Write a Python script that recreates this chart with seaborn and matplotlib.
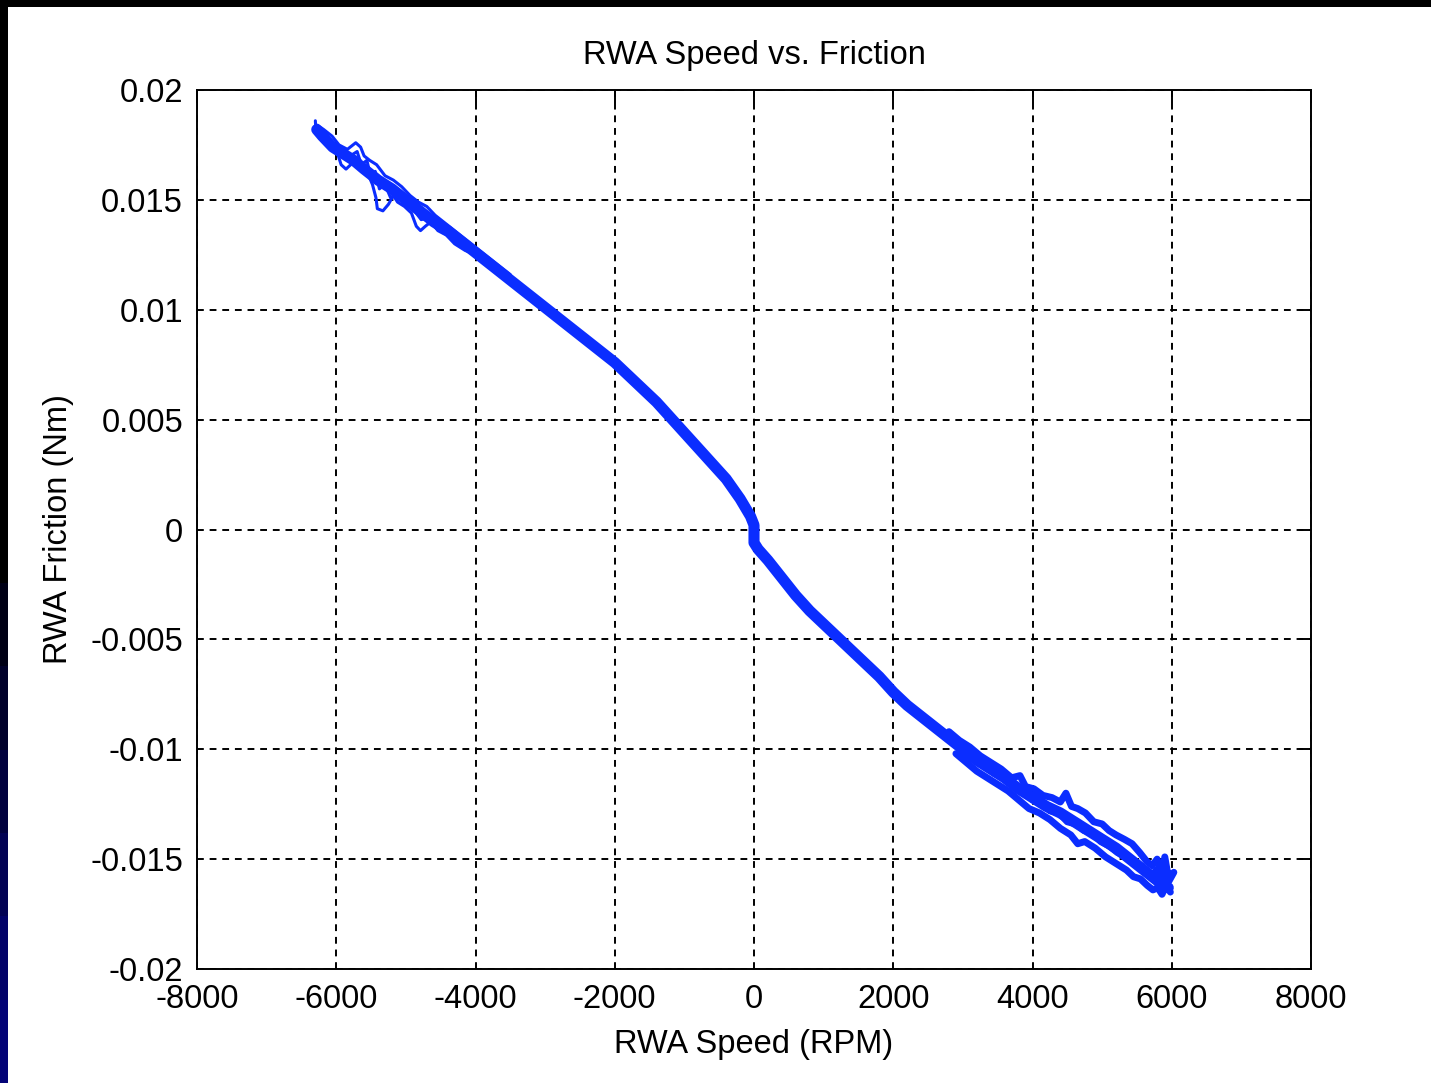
import numpy as np
import pandas as pd
import seaborn as sns
import matplotlib.pyplot as plt

# data (speed in RPM, friction in Nm)
speed_core = [-6280, -6200, -6050, -5900, -5750, -5600, -5400, -5200, -5000, -4800,
              -4600, -4400, -4200, -4000, -3800, -3600, -3400, -3200, -3000, -2800,
              -2600, -2400, -2200, -2000, -1800, -1600, -1400, -1200, -1000, -800,
              -600, -400, -200, -50, 0, 0, 60, 200, 400, 600, 800, 1000, 1200, 1400,
              1600, 1800, 2000, 2200, 2400, 2600, 2800, 3000, 3200, 3400, 3600, 3800,
              4000, 4200, 4400, 4600, 4800, 5000, 5200, 5400, 5600, 5800, 5950]
friction_core = [0.0182, 0.0179, 0.0174, 0.0171, 0.0168, 0.0164, 0.0159, 0.0155, 0.0150, 0.0145,
                 0.0140, 0.0136, 0.0131, 0.0126, 0.0121, 0.0116, 0.0111, 0.0106, 0.0101, 0.0096,
                 0.0091, 0.0086, 0.0081, 0.0076, 0.0070, 0.0064, 0.0058, 0.0051, 0.0044, 0.0037,
                 0.0030, 0.0023, 0.0014, 0.0006, 0.0002, -0.0006, -0.0009, -0.0014, -0.0022, -0.0030,
                 -0.0037, -0.0043, -0.0049, -0.0055, -0.0061, -0.0067, -0.0074, -0.0080, -0.0085, -0.0090,
                 -0.0095, -0.0100, -0.0105, -0.0109, -0.0113, -0.0118, -0.0122, -0.0126, -0.0129, -0.0133,
                 -0.0137, -0.0141, -0.0145, -0.0150, -0.0155, -0.0160, -0.0163]

# noisy sweeps at the high negative speed end
speed_l1 = [-6300, -6290, -6200, -6080, -5990, -5930, -5860, -5760, -5680, -5560, -5480, -5430,
            -5410, -5330, -5250, -5180, -5120, -5020, -4920, -4850, -4790, -4720, -4640, -4540,
            -4420, -4300, -4150, -4000, -3850, -3700]
friction_l1 = [0.0186, 0.0180, 0.0177, 0.0176, 0.0172, 0.0166, 0.0164, 0.0167, 0.0169, 0.0163,
               0.0157, 0.0151, 0.0146, 0.0145, 0.0148, 0.0152, 0.0149, 0.0147, 0.0144, 0.0138,
               0.0136, 0.0138, 0.0140, 0.0136, 0.0134, 0.0130, 0.0127, 0.0125, 0.0121, 0.0117]
speed_l2 = [-6270, -6180, -6060, -5960, -5840, -5720, -5650, -5600, -5520, -5420, -5300, -5180,
            -5060, -4940, -4820, -4700, -4580, -4460, -4340, -4220, -4100, -3980, -3860, -3740,
            -3620, -3500]
friction_l2 = [0.0184, 0.0182, 0.0179, 0.0175, 0.0173, 0.0176, 0.0174, 0.0170, 0.0168, 0.0166,
               0.0161, 0.0159, 0.0156, 0.0152, 0.0149, 0.0147, 0.0143, 0.0140, 0.0137, 0.0134,
               0.0131, 0.0128, 0.0125, 0.0122, 0.0119, 0.0116]
speed_l3 = [-6240, -6100, -5950, -5800, -5700, -5640, -5560, -5500, -5440, -5380, -5300, -5220,
            -5120, -5000, -4900, -4780, -4660, -4560, -4440, -4320, -4200, -4060, -3920, -3780,
            -3640, -3500, -3360]
friction_l3 = [0.0181, 0.0175, 0.0170, 0.0170, 0.0172, 0.0166, 0.0168, 0.0160, 0.0163, 0.0155,
               0.0157, 0.0151, 0.0153, 0.0148, 0.0146, 0.0141, 0.0142, 0.0137, 0.0136, 0.0132,
               0.0130, 0.0126, 0.0124, 0.0120, 0.0117, 0.0114, 0.0111]

# noisy sweeps at the high positive speed end
speed_r1 = [2800, 2950, 3100, 3250, 3400, 3550, 3700, 3820, 3900, 4020, 4150, 4280, 4400, 4480,
            4560, 4650, 4760, 4880, 5000, 5100, 5200, 5320, 5430, 5540, 5640, 5720, 5790, 5830,
            5880, 5940, 6000]
friction_r1 = [-0.0092, -0.0096, -0.0099, -0.0103, -0.0106, -0.0109, -0.0113, -0.0112, -0.0117,
               -0.0118, -0.0121, -0.0122, -0.0124, -0.0120, -0.0126, -0.0127, -0.0129, -0.0133,
               -0.0134, -0.0137, -0.0139, -0.0141, -0.0143, -0.0147, -0.0151, -0.0153, -0.0150,
               -0.0154, -0.0152, -0.0156, -0.0157]
speed_r2 = [2900, 3050, 3200, 3350, 3500, 3650, 3800, 3950, 4100, 4250, 4400, 4550, 4650, 4750,
            4900, 5050, 5200, 5350, 5450, 5550, 5650, 5730, 5800, 5860, 5920, 5980]
friction_r2 = [-0.0102, -0.0106, -0.0110, -0.0113, -0.0116, -0.0119, -0.0123, -0.0127, -0.0129,
               -0.0132, -0.0136, -0.0139, -0.0143, -0.0142, -0.0145, -0.0149, -0.0152, -0.0155,
               -0.0158, -0.0159, -0.0162, -0.0164, -0.0163, -0.0166, -0.0162, -0.0165]
speed_r3 = [3000, 3150, 3300, 3450, 3600, 3750, 3880, 4000, 4120, 4250, 4380, 4500, 4620, 4740,
            4860, 4980, 5100, 5220, 5340, 5460, 5580, 5700, 5780, 5850, 5900, 5960, 6030]
friction_r3 = [-0.0099, -0.0104, -0.0106, -0.0111, -0.0113, -0.0117, -0.0119, -0.0123, -0.0124,
               -0.0128, -0.0129, -0.0133, -0.0134, -0.0137, -0.0138, -0.0142, -0.0144, -0.0147,
               -0.0149, -0.0152, -0.0154, -0.0158, -0.0155, -0.0161, -0.0149, -0.0160, -0.0156]

x_ticks = [-8000, -6000, -4000, -2000, 0, 2000, 4000, 6000, 8000]
y_ticks = [-0.02, -0.015, -0.01, -0.005, 0, 0.005, 0.01, 0.015, 0.02]
x_ticklabels = ['-8000', '-6000', '-4000', '-2000', '0', '2000', '4000', '6000', '8000']
y_ticklabels = ['-0.02', '-0.015', '-0.01', '-0.005', '0', '0.005', '0.01', '0.015', '0.02']

sns.set_style('white')
plt.rcParams['font.family'] = ['Liberation Sans', 'DejaVu Sans']
plt.rcParams['text.color'] = 'black'
plt.rcParams['axes.labelcolor'] = 'black'

blue = '#0b2dff'
fs = 23.5

fig = plt.figure(figsize=(14.31, 10.83), dpi=100, facecolor='white')

# slide background showing at the top and left edge
top_band = fig.add_axes([0, 1 - 7 / 1083, 1, 7 / 1083])
top_band.set_axis_off()
top_band.add_patch(plt.Rectangle((0, 0), 1, 1, color='black', transform=top_band.transAxes))
left_band = fig.add_axes([0, 0, 8 / 1431, 1])
left_band.set_axis_off()
shade = np.array([0, 0, 0, 0, 0, 0, 0, 0.15, 0.3, 0.45, 0.6, 0.75, 0.85]).reshape(-1, 1, 1)
left_band.imshow(shade * np.array([0.02, 0.02, 0.55]).reshape(1, 1, 3),
                 aspect='auto', extent=[0, 1, 0, 1])

ax = fig.add_axes([197 / 1431, 1 - 969 / 1083, (1311 - 197) / 1431, (969 - 90) / 1083])

sns.lineplot(x=speed_core, y=friction_core, sort=False, estimator=None,
             color=blue, lw=8, ax=ax)
for sx, fy in [(speed_l1, friction_l1), (speed_l2, friction_l2), (speed_l3, friction_l3)]:
    sns.lineplot(x=sx, y=fy, sort=False, estimator=None, color=blue, lw=2.2, ax=ax)
for sx, fy in [(speed_r1, friction_r1), (speed_r2, friction_r2), (speed_r3, friction_r3)]:
    sns.lineplot(x=sx, y=fy, sort=False, estimator=None, color=blue, lw=5, ax=ax)

ax.set_xlim(-8000, 8000)
ax.set_ylim(-0.02, 0.02)
ax.set_xticks(x_ticks)
ax.set_xticklabels(x_ticklabels)
ax.set_yticks(y_ticks)
ax.set_yticklabels(y_ticklabels)
ax.set_axisbelow(True)
ax.grid(True, color='black', lw=1.4, linestyle=(0, (3.5, 3)))
ax.tick_params(direction='in', length=9, width=1.4, top=True, right=True,
               labelsize=fs, colors='black')
ax.tick_params(axis='x', pad=11)
ax.tick_params(axis='y', pad=10)
for sp in ax.spines.values():
    sp.set_color('black')
    sp.set_linewidth(1.4)

ax.set_title('RWA Speed vs. Friction', fontsize=fs, pad=19)
ax.set_xlabel('RWA Speed (RPM)', fontsize=fs, labelpad=10)
ax.set_ylabel('RWA Friction (Nm)', fontsize=fs, labelpad=12)

fig.savefig('out.png', dpi=100, facecolor='white')
